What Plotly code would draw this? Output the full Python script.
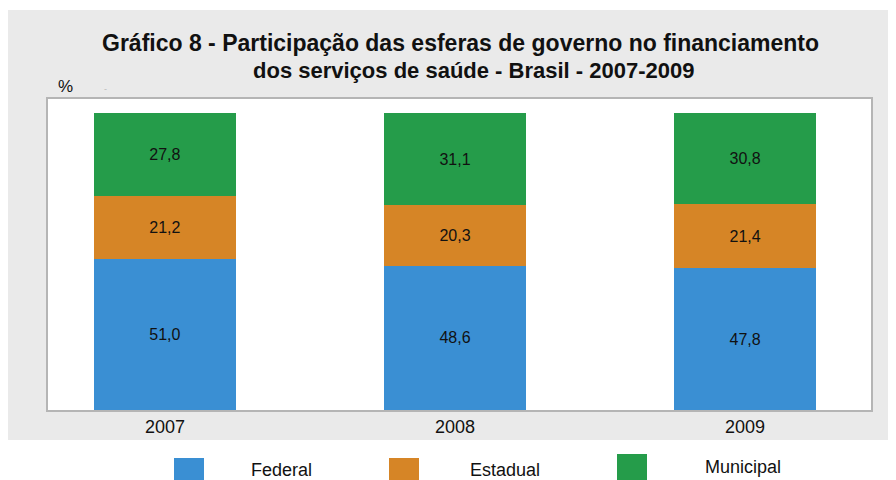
import plotly.graph_objects as go

years = ["2007", "2008", "2009"]
federal = [51.0, 48.6, 47.8]
estadual = [21.2, 20.3, 21.4]
municipal = [27.8, 31.1, 30.8]
series_names = ["Federal", "Estadual", "Municipal"]
colors = ["#3A8FD3", "#D68526", "#259C4A"]

OFF = 8  # page body margin
W, H = 896 - OFF, 480 - OFF
L, R, T, B = 48 - OFF, 871 - OFF, 99 - OFF, 410 - OFF
pw, ph = R - L, B - T
FONT = "Liberation Sans, Arial, sans-serif"


def px(x):
    return (x - OFF - L) / pw


def py(y):
    return (B - (y - OFF)) / ph


def fmt(v):
    return f"{v:.1f}".replace(".", ",")


fig = go.Figure()
for name, vals, col in zip(series_names, [federal, estadual, municipal], colors):
    fig.add_trace(go.Bar(
        x=years, y=vals, name=name, marker=dict(color=col, line=dict(width=0)),
        text=[fmt(v) for v in vals], textposition="inside",
        insidetextanchor="middle", textangle=0,
        textfont=dict(family=FONT, size=16, color="#111111"),
        hoverinfo="skip", showlegend=False,
    ))

shapes = [
    dict(type="rect", xref="paper", yref="paper", x0=px(8), x1=px(900), y0=py(440), y1=py(10),
         fillcolor="#EAEAEA", line=dict(width=0), layer="below"),
    dict(type="rect", xref="paper", yref="paper", x0=0, x1=1, y0=0, y1=1,
         fillcolor="#FFFFFF", line=dict(width=0), layer="below"),
]
annotations = [
    dict(xref="paper", yref="paper", x=px(460), y=py(43), xanchor="center", yanchor="middle",
         text="<b>Gráfico 8 - Participação das esferas de governo no financiamento</b>",
         showarrow=False, font=dict(family=FONT, size=23, color="#111111")),
    dict(xref="paper", yref="paper", x=px(473), y=py(70), xanchor="center", yanchor="middle",
         text="<b>dos serviços de saúde - Brasil - 2007-2009</b>",
         showarrow=False, font=dict(family=FONT, size=22, color="#111111")),
    dict(xref="paper", yref="paper", x=px(56), y=py(87), xanchor="left", yanchor="middle",
         text="%", showarrow=False, font=dict(family=FONT, size=17, color="#111111")),
    dict(xref="paper", yref="paper", x=px(105), y=py(89), xanchor="center", yanchor="middle",
         text="-", showarrow=False, font=dict(family=FONT, size=9, color="#BBBBBB")),
]

legend_items = [
    (174, 458, 249, 470),
    (389, 458, 468, 470),
    (617, 454, 703, 467),
]
for (sx, sy, tx, ty), name, col in zip(legend_items, series_names, colors):
    shapes.append(dict(type="rect", xref="paper", yref="paper", x0=px(sx), x1=px(sx + 30),
                       y0=py(sy + 26), y1=py(sy), fillcolor=col, line=dict(width=0)))
    annotations.append(dict(xref="paper", yref="paper", x=px(tx), y=py(ty), xanchor="left",
                            yanchor="middle", text=name, showarrow=False,
                            font=dict(family=FONT, size=18, color="#111111")))

fig.update_layout(
    barmode="stack", bargap=0.51,
    width=W, height=H,
    margin=dict(l=L, r=W - R, t=T, b=H - B, pad=0),
    paper_bgcolor="#FFFFFF", plot_bgcolor="rgba(0,0,0,0)",
    shapes=shapes, annotations=annotations,
    xaxis=dict(type="category", range=[-0.403, 2.434], showgrid=False, ticks="",
               showline=True, mirror=True, linecolor="#B5B5B5", linewidth=1.5,
               tickfont=dict(family=FONT, size=18, color="#111111")),
    yaxis=dict(range=[0, 104.7], showgrid=False, showticklabels=False, ticks="", zeroline=False,
               showline=True, mirror=True, linecolor="#B5B5B5", linewidth=1.5),
)

fig.write_html("out.html")
